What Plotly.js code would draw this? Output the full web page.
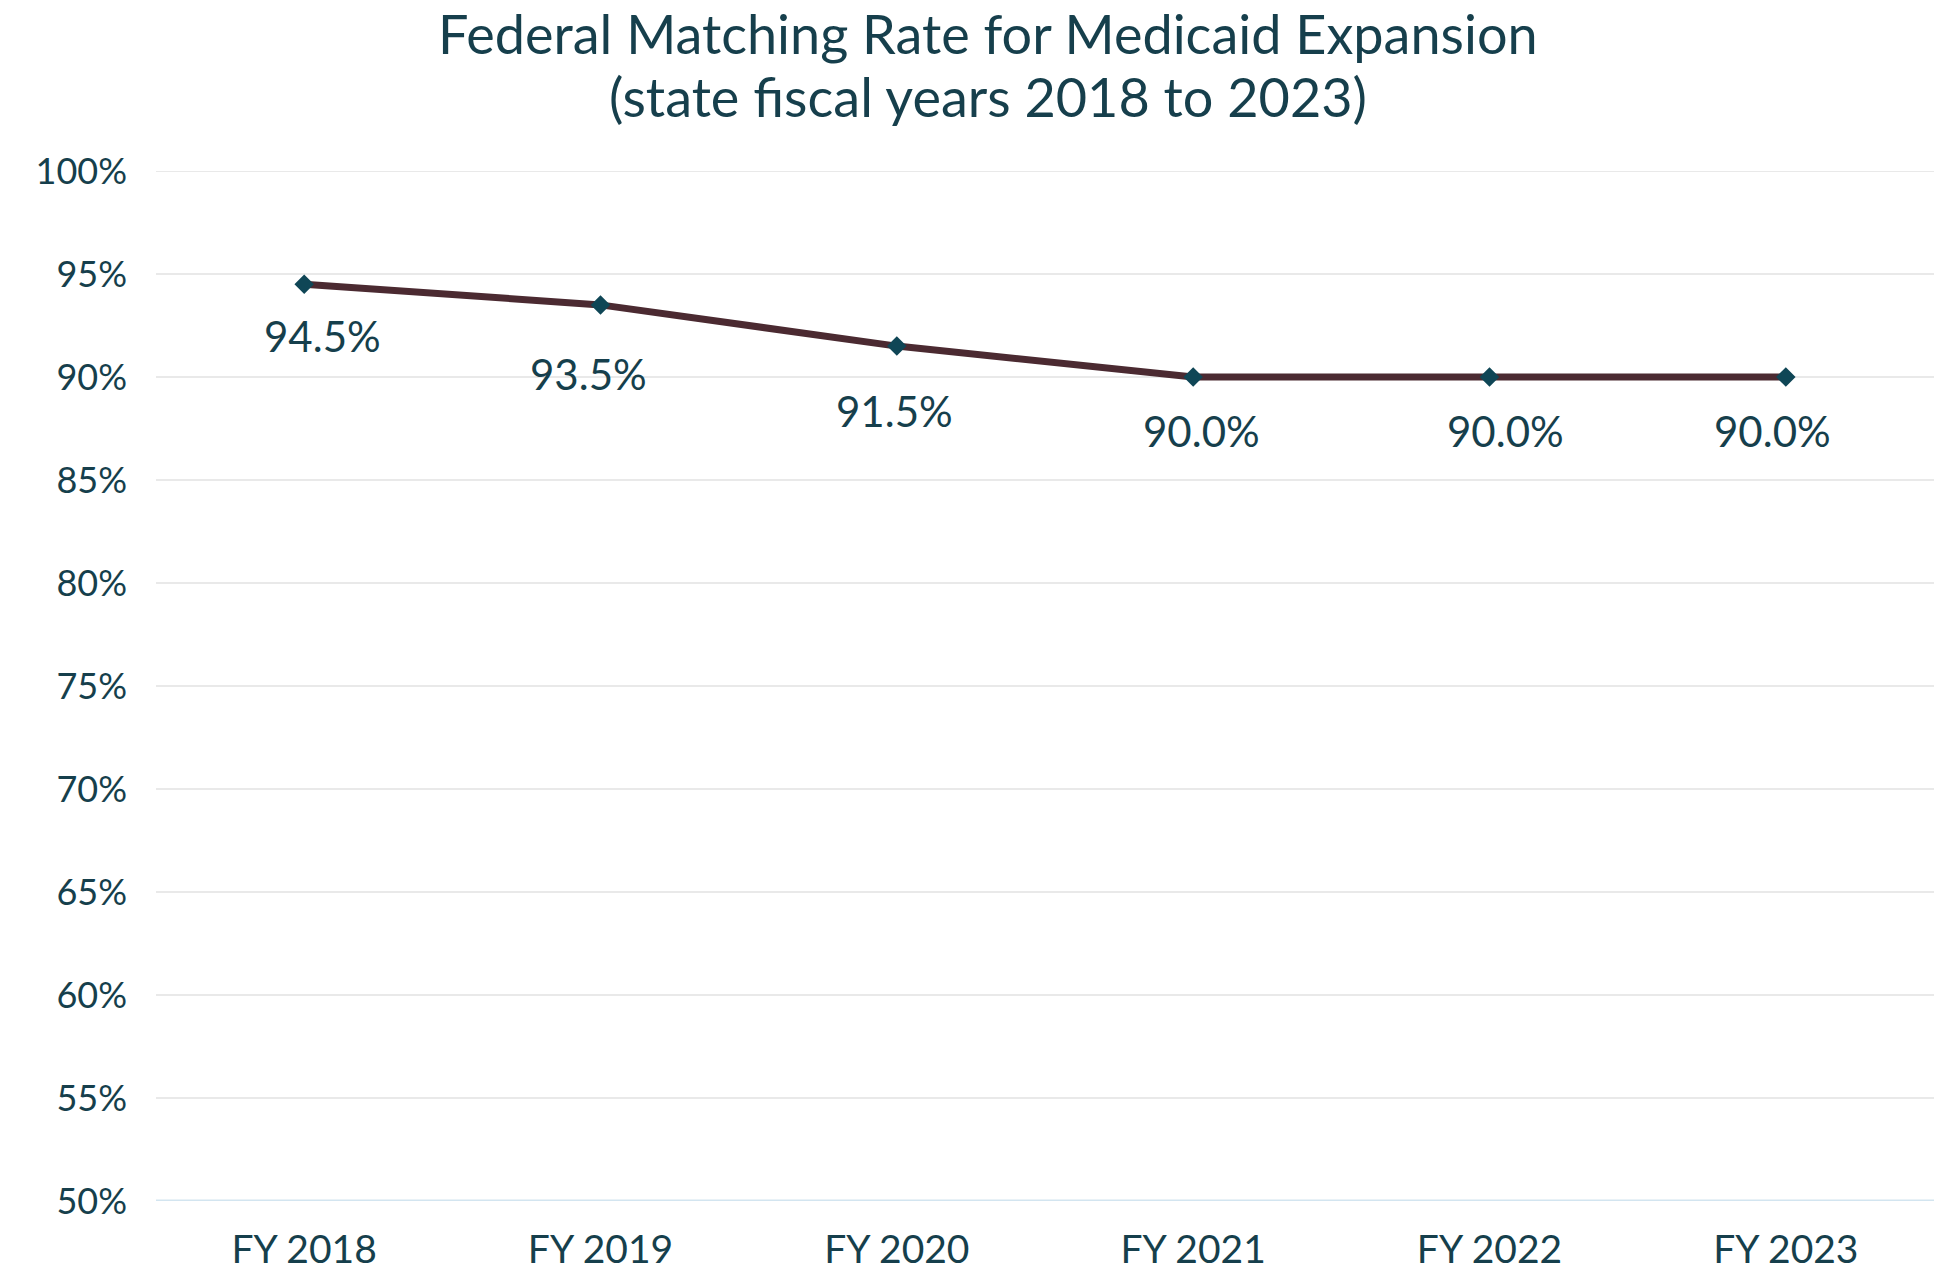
<!DOCTYPE html>
<html>
<head>
<meta charset="utf-8">
<script src="https://cdn.plot.ly/plotly-3.0.1.min.js"></script>
<style>html,body{margin:0;padding:0;background:#fff;}#chart{width:1937px;height:1271px;}</style>
</head>
<body>
<div id="chart"></div>
<script>
const categories = ["FY 2018", "FY 2019", "FY 2020", "FY 2021", "FY 2022", "FY 2023"];
const matchingRate = [94.5, 93.5, 91.5, 90.0, 90.0, 90.0];
const rateLabels = ["94.5%", "93.5%", "91.5%", "90.0%", "90.0%", "90.0%"];
const yTickVals = [50, 55, 60, 65, 70, 75, 80, 85, 90, 95, 100];
const yTickText = ["50%", "55%", "60%", "65%", "70%", "75%", "80%", "85%", "90%", "95%", "100%"];
const titleLine1 = "Federal Matching Rate for Medicaid Expansion";
const titleLine2 = "(state fiscal years 2018 to 2023)";

// label nudges (pixels), as placed in the original
const labelXShift = [18, -12, -2, 8, 16, -13];
const labelYShift = [-52, -69, -65, -54, -54, -54];

const textColor = "#163f4c";
const font = "Lato, 'Open Sans', sans-serif";

const trace = {
  x: categories,
  y: matchingRate,
  type: "scatter",
  mode: "lines+markers",
  line: {color: "#4b2a31", width: 7},
  marker: {symbol: "diamond", size: 15, color: "#0f4656"},
  hoverinfo: "skip"
};

const annotations = categories.map((c, i) => ({
  x: c, y: matchingRate[i], xref: "x", yref: "y",
  text: rateLabels[i], showarrow: false,
  yshift: labelYShift[i], xshift: labelXShift[i],
  font: {family: font, size: 42, color: textColor}
}));
annotations.push({
  x: 0.468, y: 1.0728, xref: "paper", yref: "paper",
  xanchor: "center", yanchor: "middle", showarrow: false,
  text: titleLine2,
  font: {family: font, size: 54, color: textColor}
});

const layout = {
  width: 1937, height: 1271,
  paper_bgcolor: "#ffffff", plot_bgcolor: "#ffffff",
  margin: {l: 156, r: 3, t: 171, b: 70},
  showlegend: false,
  title: {
    text: titleLine1,
    x: 0.51, xanchor: "center", y: 1 - 35 / 1271, yanchor: "middle",
    font: {family: font, size: 54, color: textColor}
  },
  xaxis: {
    type: "category", range: [-0.5, 5.5],
    showgrid: false, zeroline: false,
    showline: false,
    ticks: "", ticklabelstandoff: 22,
    tickfont: {family: font, size: 39, color: textColor}
  },
  yaxis: {
    range: [50, 100], tickvals: yTickVals, ticktext: yTickText,
    showgrid: true, gridcolor: "#e9e9e9", gridwidth: 2,
    zeroline: false, showline: false, ticks: "", ticklabelstandoff: 28,
    tickfont: {family: font, size: 36, color: textColor}
  },
  shapes: [
    {type: "line", xref: "paper", yref: "y", x0: 0, x1: 1, y0: 50, y1: 50,
     line: {color: "#d3e5f0", width: 3}, layer: "below"},
    {type: "line", xref: "paper", yref: "y", x0: 0, x1: 1, y0: 100, y1: 100,
     line: {color: "#e9e9e9", width: 2}, layer: "below"}
  ],
  annotations: annotations
};

Plotly.newPlot("chart", [trace], layout, {displayModeBar: false, staticPlot: true});
</script>
</body>
</html>
